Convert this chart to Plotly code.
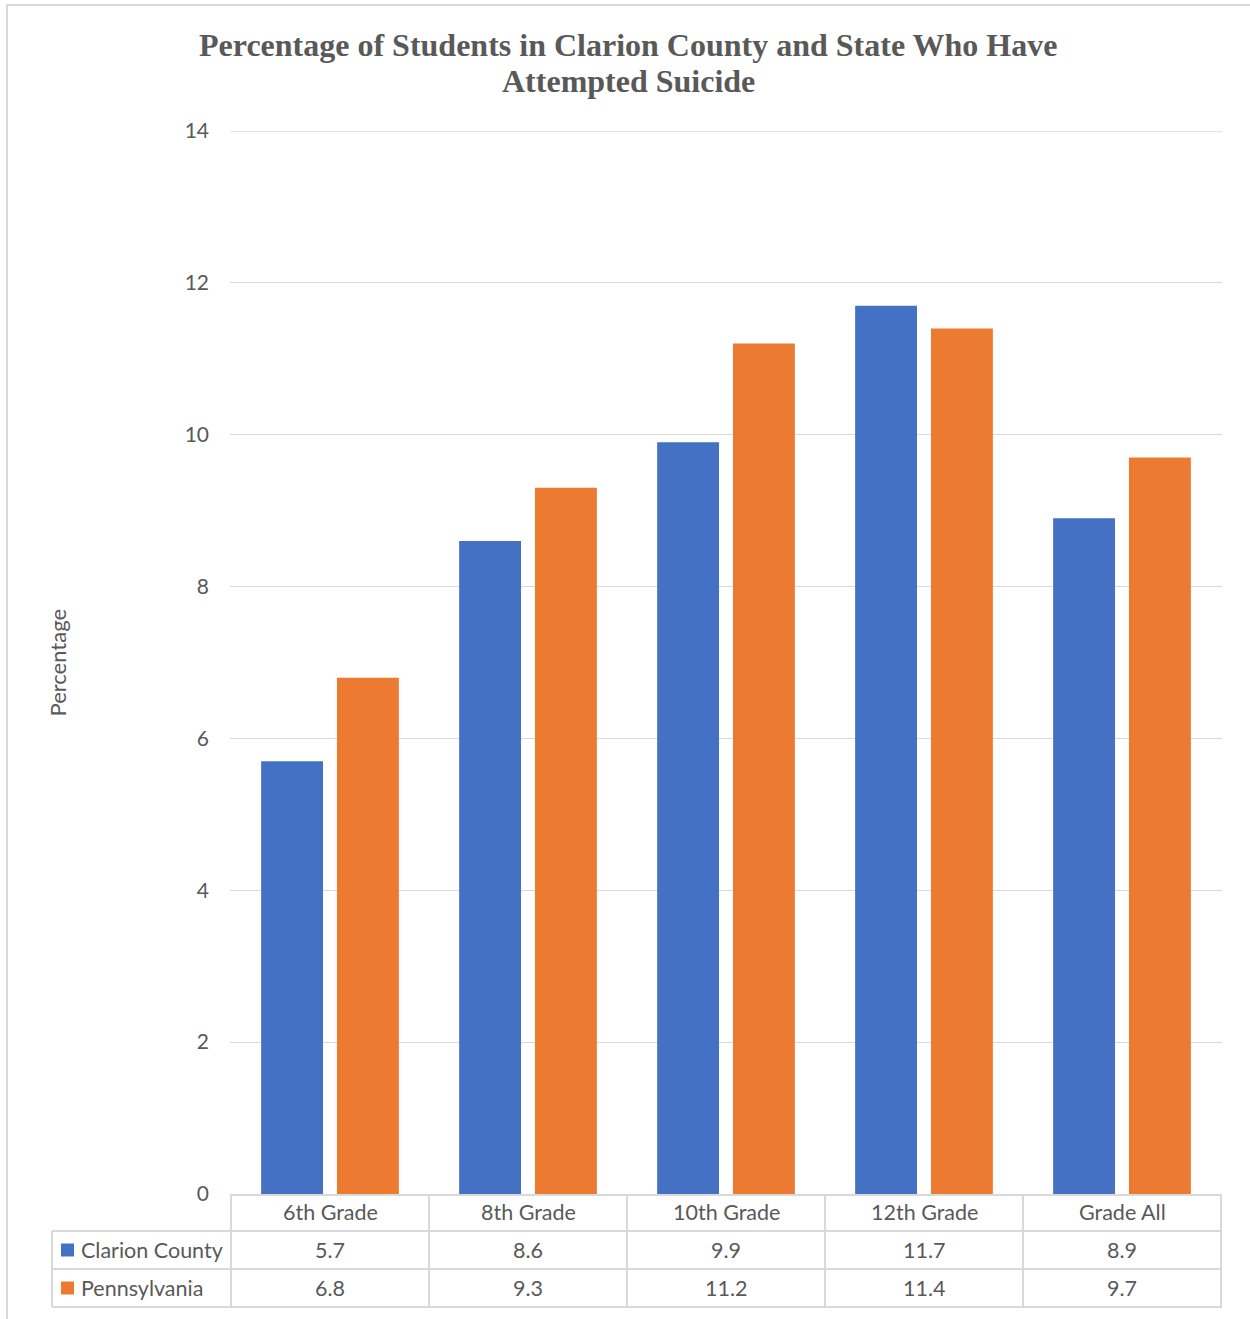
import plotly.graph_objects as go

categories = ["6th Grade", "8th Grade", "10th Grade", "12th Grade", "Grade All"]
clarion = [5.7, 8.6, 9.9, 11.7, 8.9]
pennsylvania = [6.8, 9.3, 11.2, 11.4, 9.7]
series_names = ["Clarion County", "Pennsylvania"]
series_colors = ["#4471C4", "#EC7A30"]
y_ticks = [0, 2, 4, 6, 8, 10, 12, 14]
title_lines = ["Percentage of Students in Clarion County and State Who Have", "Attempted Suicide"]

W, H = 1250, 1319
L, R, T, B = 230, 1222, 131, 1194
def px_x(p): return (p - L) / (R - L)
def px_y(p): return (B - p) / (B - T)

TXT = "#595959"
GRID = "#D9D9D9"
FONT = "Lato"
FS = 21.5

fig = go.Figure()
for name, vals, col in zip(series_names, [clarion, pennsylvania], series_colors):
    fig.add_trace(go.Bar(x=categories, y=vals, name=name, marker=dict(color=col, line=dict(width=0)),
                         showlegend=False))

shapes = []
annotations = []
# outer border
shapes.append(dict(type="rect", xref="paper", yref="paper", x0=px_x(7), x1=px_x(1262),
                   y0=px_y(1330), y1=px_y(5), line=dict(color=GRID, width=2), fillcolor="rgba(0,0,0,0)", layer="below"))
# top gridline
shapes.append(dict(type="line", xref="paper", yref="y", x0=0, x1=1, y0=y_ticks[-1], y1=y_ticks[-1],
                   line=dict(color=GRID, width=1.3), layer="below"))
# data table lines
n = len(categories)
rows_y = [1231, 1269, 1307]
for ry in rows_y:
    shapes.append(dict(type="line", xref="paper", yref="paper", x0=px_x(52), x1=1, y0=px_y(ry), y1=px_y(ry),
                       line=dict(color=GRID, width=2)))
for i in range(n + 1):
    shapes.append(dict(type="line", xref="x", yref="paper", x0=i - 0.5, x1=i - 0.5, y0=0, y1=px_y(1307),
                       line=dict(color=GRID, width=2)))
shapes.append(dict(type="line", xref="paper", yref="paper", x0=px_x(52), x1=px_x(52), y0=px_y(1231), y1=px_y(1307),
                   line=dict(color=GRID, width=2)))

# header labels and values
for i, c in enumerate(categories):
    annotations.append(dict(x=c, xref="x", y=px_y(1211.5), yref="paper", text=c, showarrow=False,
                            xanchor="center", yanchor="middle",
                            font=dict(family=FONT, size=FS, color=TXT)))
for r, (vals, ry) in enumerate(zip([clarion, pennsylvania], [1249.5, 1287.5])):
    for c, v in zip(categories, vals):
        annotations.append(dict(x=c, xref="x", y=px_y(ry), yref="paper", text=f"{v}", showarrow=False,
                                xanchor="center", yanchor="middle",
                                font=dict(family=FONT, size=FS, color=TXT)))
    # legend keys
    shapes.append(dict(type="rect", xref="paper", yref="paper", x0=px_x(61), x1=px_x(74),
                       y0=px_y(ry + 7), y1=px_y(ry - 6), fillcolor=series_colors[r], line=dict(width=0)))
    annotations.append(dict(x=px_x(79), xref="paper", y=px_y(ry), yref="paper", text=series_names[r],
                            xanchor="left", yanchor="middle", showarrow=False,
                            font=dict(family=FONT, size=FS, color=TXT)))

# y axis title
annotations.append(dict(x=px_x(57), xref="paper", y=0.5, yref="paper", text="Percentage", textangle=-90,
                        xanchor="center", yanchor="middle",
                        showarrow=False, font=dict(family=FONT, size=22, color=TXT)))

# title (two lines)
for line, ty in zip(title_lines, [45, 81]):
    annotations.append(dict(x=px_x(628), xref="paper", y=px_y(ty), yref="paper", text=f"<b>{line}</b>",
                            xanchor="center", yanchor="middle", showarrow=False,
                            font=dict(family="Liberation Serif", size=32, color=TXT)))

fig.update_layout(
    width=W, height=H,
    margin=dict(l=L, r=W - R, t=T, b=H - B),
    paper_bgcolor="white", plot_bgcolor="white",
    bargap=0.234, bargroupgap=0.184, barmode="group",
    xaxis=dict(showticklabels=False, showline=True, linecolor=GRID, linewidth=2, showgrid=False, ticks=""),
    yaxis=dict(range=[0, 14], tickvals=y_ticks, showgrid=True, gridcolor=GRID, gridwidth=1.3,
               zeroline=False, showline=False, ticks="", ticklabelstandoff=20,
               tickfont=dict(family=FONT, size=21, color=TXT)),
    shapes=shapes, annotations=annotations,
)
fig.write_html("out.html", config={"displayModeBar": False},
               post_script="document.body.style.margin='0';document.body.style.padding='0';")
